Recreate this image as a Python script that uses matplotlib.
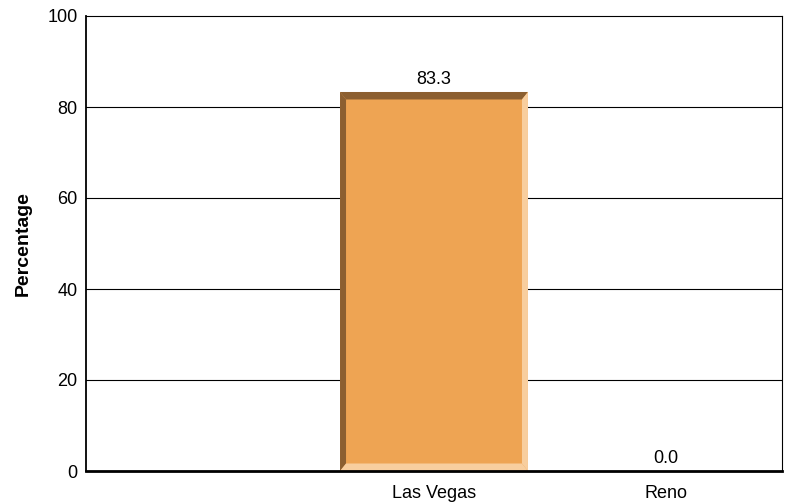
import matplotlib.pyplot as plt
from matplotlib.patches import Polygon

plt.rcParams['font.family'] = ['Liberation Sans', 'DejaVu Sans']

categories = ['', 'Las Vegas', 'Reno']
values = [None, 83.3, 0.0]
yticks = [0, 20, 40, 60, 80, 100]

face = '#EEA453'
dark = '#8C5F30'
light = '#F8CE9E'

fig = plt.figure(figsize=(7.86, 5.04), dpi=100)
ax = fig.add_axes([86/786, 33/504, 696/786, 455/504])
ax.set_xlim(-0.5, 2.5)
ax.set_ylim(0, 100)

for y in yticks[1:-1]:
    ax.axhline(y, color='black', lw=0.8, zorder=1)

width = 0.81
bx = 6 * 3.0 / 696       # bevel size in data units (x)
by = 7.5 * 100.0 / 455   # bevel size in data units (y)
for i, v in enumerate(values):
    if v is None:
        continue
    if v > 0:
        ax.bar(i, v, width=width, color=face, zorder=2)
        x0, x1 = i - width/2, i + width/2
        top = v
        polys = [
            ([(x0, top), (x1, top), (x1 - bx, top - by), (x0 + bx, top - by)], dark),
            ([(x0, 0), (x0, top), (x0 + bx, top - by), (x0 + bx, by)], dark),
            ([(x1, top), (x1, 0), (x1 - bx, by), (x1 - bx, top - by)], light),
            ([(x0, 0), (x1, 0), (x1 - bx, by), (x0 + bx, by)], light),
        ]
        for pts, c in polys:
            ax.add_patch(Polygon(pts, closed=True, facecolor=c, edgecolor='none', zorder=3))
    ax.text(i, v + 0.8, '%.1f' % v, ha='center', va='bottom', fontsize=13, zorder=4)

ax.set_xticks(range(len(categories)))
ax.set_xticklabels(categories, fontsize=13)
ax.set_yticks(yticks)
ax.set_yticklabels([str(t) for t in yticks], fontsize=13)
ax.tick_params(axis='x', length=0, pad=10)
ax.tick_params(axis='y', length=0, pad=6)
ax.set_ylabel('Percentage', fontsize=14, fontweight='bold', labelpad=11)

for s in ['top', 'right']:
    ax.spines[s].set_linewidth(0.8)
ax.spines['left'].set_linewidth(1.3)
ax.spines['bottom'].set_linewidth(2)
for s in ax.spines.values():
    s.set_zorder(5)

fig.savefig('out.png', dpi=100)
